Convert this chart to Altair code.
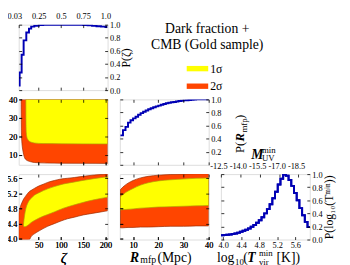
import altair as alt
import pandas as pd

FONT = "Liberation Serif"
YEL, ORA, BLUE = "#ffff00", "#ff4500", "#0000b4"
W, H = 91, 67

levels = ["1σ", "2σ"]
heading = ["Dark fraction +", "CMB (Gold sample)"]

# ---- marginal P(zeta) ----
zeta_steps = [5, 7, 11.5, 16, 22, 28, 33, 40, 50, 60, 150, 160, 170, 180, 190, 200, 205]
p_zeta = [0.07, 0.27, 0.54, 0.76, 0.88, 0.94, 0.97, 0.985, 0.995, 1.0, 0.995, 0.99, 0.982, 0.975, 0.97, 0.965, 0.965]
fesc_tick_zeta = [6, 50, 100, 150, 200]
fesc_labels = ["0.03", "0.25", "0.5", "0.75", "1.0"]

# ---- marginal P(Rmfp) ----
rmfp_steps = [5, 6, 7, 8, 9, 10, 11, 12, 13, 14, 15, 16, 17, 18, 19, 20, 21, 22, 23, 24,
              25, 26, 27, 28, 29, 30, 31, 32, 33, 34, 35, 36, 37, 38, 39, 40]
p_rmfp = [0.45, 0.53, 0.58, 0.645, 0.68, 0.71, 0.735, 0.765, 0.79, 0.81, 0.83, 0.85, 0.865, 0.88,
          0.893, 0.905, 0.917, 0.93, 0.94, 0.95, 0.955, 0.96, 0.968, 0.975, 0.98, 0.985, 0.988,
          0.99, 0.994, 0.997, 1.0, 1.0, 1.0, 1.0, 1.0, 1.0]

# ---- marginal P(log10 Tvir) ----
tvir_steps = [3.95, 4.01, 4.07, 4.13, 4.19, 4.25, 4.31, 4.37, 4.43, 4.49, 4.55, 4.61, 4.67, 4.73,
              4.79, 4.85, 4.91, 4.97, 5.03, 5.09, 5.15, 5.21, 5.27, 5.33, 5.39, 5.45, 5.51, 5.57,
              5.63, 5.69, 5.75, 5.81, 5.87, 5.93]
p_tvir = [0.065, 0.068, 0.073, 0.078, 0.085, 0.093, 0.105, 0.118, 0.133, 0.150, 0.170, 0.195,
          0.222, 0.255, 0.295, 0.340, 0.400, 0.465, 0.540, 0.630, 0.730, 0.840, 0.930, 0.995,
          0.975, 0.910, 0.820, 0.710, 0.600, 0.480, 0.370, 0.270, 0.190, 0.190]
muv_tick_tvir = [3.95, 4.38, 4.81, 5.24, 5.67]
muv_labels = ["-12.5", "-14.0", "-15.5", "-17.0", "-18.5"]

# ---- contours Rmfp vs zeta ----
zB2 = [10.3, 10.6, 11, 12, 13, 14.5, 16, 18.2, 21, 25.5, 32, 40, 55, 69, 100, 150, 205]
rB2_lo = [40, 30, 22, 17, 14.5, 12.2, 10.3, 8.6, 7.6, 6.9, 6.4, 6.0, 5.8, 5.7, 5.6, 5.55, 5.5]
zB1 = [21, 21.3, 22, 23.5, 26, 29, 35, 40, 60, 100, 205]
rB1_lo = [40, 28, 22, 19.5, 18.2, 17.4, 16.8, 16.5, 16.2, 16.1, 16.0]

# ---- contours log Tvir vs zeta ----
zC2 = [5, 8, 12, 16, 20, 25, 29, 33, 40, 51, 60, 70, 85, 100, 115, 130, 150, 170, 190, 205]
tC2_hi = [4.66, 4.82, 4.95, 5.05, 5.12, 5.20, 5.25, 5.28, 5.33, 5.40, 5.44, 5.49, 5.54, 5.58,
          5.60, 5.62, 5.65, 5.68, 5.70, 5.72]
tC2_lo = [3.97, 3.97, 3.97, 3.97, 3.97, 3.97, 3.98, 4.06, 4.13, 4.21, 4.27, 4.33, 4.40, 4.47,
          4.53, 4.57, 4.63, 4.67, 4.71, 4.74]
zC1 = [15.5, 17, 19, 22, 27, 33, 40, 51, 70, 85, 106, 125, 143, 174, 205]
tC1_hi = [4.36, 4.52, 4.68, 4.84, 4.98, 5.07, 5.15, 5.22, 5.32, 5.38, 5.45, 5.49, 5.53, 5.59, 5.64]
tC1_lo = [4.36, 4.32, 4.32, 4.33, 4.37, 4.43, 4.48, 4.55, 4.64, 4.71, 4.81, 4.88, 4.94, 5.03, 5.10]

# ---- contours log Tvir vs Rmfp ----
rD = [5, 6, 8, 10, 13, 16, 20, 25, 30, 35, 40]
tD2_hi = [5.30, 5.37, 5.47, 5.54, 5.61, 5.65, 5.68, 5.70, 5.71, 5.72, 5.72]
tD2_lo = [4.29, 4.29, 4.30, 4.30, 4.31, 4.31, 4.32, 4.33, 4.33, 4.34, 4.34]
tD1_hi = [5.11, 5.17, 5.26, 5.33, 5.42, 5.48, 5.53, 5.56, 5.58, 5.60, 5.61]
tD1_lo = [4.76, 4.77, 4.78, 4.79, 4.81, 4.82, 4.84, 4.85, 4.86, 4.87, 4.88]

prob_ticks = [0.0, 0.2, 0.4, 0.6, 0.8, 1.0]
zeta_ticks = [50, 100, 150, 200]
rmfp_ticks = [10, 20, 30, 40]
tvir_ticks = [4.0, 4.4, 4.8, 5.2, 5.6]

zeta_scale = alt.Scale(domain=[5, 205], nice=False, zero=False)
rmfp_scale = alt.Scale(domain=[4.75, 40], nice=False, zero=False)
tvir_scale = alt.Scale(domain=[3.98, 5.71], nice=False, zero=False)
tvirF_scale = alt.Scale(domain=[3.95, 5.92], nice=False, zero=False)
prob_scale = alt.Scale(domain=[0, 1], nice=False)
color_scale = alt.Scale(domain=levels, range=[YEL, ORA])

legend = alt.Legend(orient="none", legendX=172, legendY=34, title=None,
                    symbolType="M-1,-0.25L1,-0.25L1,0.25L-1,0.25Z", symbolSize=484,
                    symbolStrokeWidth=0, labelFont=FONT, labelFontSize=12, labelOffset=2,
                    rowPadding=1, padding=0)

one = pd.DataFrame({"_": [0]})


def ax(**kw):
    base = dict(domain=False, grid=False, tickColor="black", tickSize=3, tickWidth=0.8, offset=-3,
                labelFont=FONT, labelFontSize=8.5, labelColor="black", labelFlush=False,
                labelOverlap=False, titleFont=FONT, titleColor="black", titleFontWeight="normal",
                zindex=2)
    base.update(kw)
    return alt.Axis(**base)


def tick_axis(orient, vals):
    return ax(orient=orient, values=vals, labels=False, title=None)


def mirror(xscale, yscale, xorient, xvals, yorient, yvals):
    """Invisible layer that only carries inward tick marks on the other two sides."""
    return alt.Chart(one).mark_point(opacity=0).encode(
        x=alt.X("mx:Q", scale=xscale, axis=tick_axis(xorient, xvals) if xorient else None),
        y=alt.Y("my:Q", scale=yscale, axis=tick_axis(yorient, yvals) if yorient else None),
    )


def note(txt, x, y, size, style="normal", weight="normal", angle=0, align="left", baseline="alphabetic"):
    return alt.Chart(one).mark_text(text=txt, font=FONT, fontSize=size, fontStyle=style,
                                    fontWeight=weight, angle=angle, align=align,
                                    baseline=baseline, color="black").encode(
        x=alt.value(x), y=alt.value(y))


def cond_expr(vals, labs):
    return " : ".join(f"abs(datum.value - {v}) < 0.001 ? '{l}'" for v, l in zip(vals, labs)) + " : ''"


def area_layer(df, xenc, yenc, y2enc, stroke):
    return alt.Chart(df).mark_area(clip=True, interpolate="monotone", stroke=stroke,
                                   strokeWidth=0.7).encode(
        x=xenc, y=yenc, y2=y2enc,
        color=alt.Color("level:N", scale=color_scale, legend=legend))


# Panel A: P(zeta)
dfA = pd.DataFrame({"x": zeta_steps, "p": p_zeta})
A = alt.layer(
    alt.Chart(dfA).mark_line(interpolate="step-after", color=BLUE, strokeWidth=2, clip=True).encode(
        x=alt.X("x:Q", scale=zeta_scale,
                axis=ax(orient="top", values=fesc_tick_zeta,
                        labelExpr=cond_expr(fesc_tick_zeta, fesc_labels),
                        labelPadding=4, title=None,
                        labelOffset={"condition": {"test": "datum.value < 10", "value": -5}, "value": 0})),
        y=alt.Y("p:Q", scale=prob_scale,
                axis=ax(orient="right", values=prob_ticks, format=".1f", labelPadding=2,
                        title="P(ζ)", titleAngle=270, titleBaseline="top", titleFontSize=12,
                        titlePadding=1)),
    ),
    mirror(zeta_scale, prob_scale, "bottom", zeta_ticks, "left", prob_ticks),
).resolve_axis(x="independent", y="independent").properties(width=W, height=H)

# Panel B: Rmfp vs zeta
xB = alt.X("x:Q", scale=zeta_scale, axis=tick_axis("bottom", zeta_ticks))
yB = alt.Y("lo:Q", scale=rmfp_scale, axis=ax(orient="left", values=rmfp_ticks, format="d",
                                              labelPadding=2, title=None))
dfB2 = pd.DataFrame({"x": zB2, "lo": rB2_lo, "level": levels[1]})
dfB1 = pd.DataFrame({"x": zB1, "lo": rB1_lo, "level": levels[0]})
B = alt.layer(
    area_layer(dfB2, xB, yB, alt.datum(40), "#9a2a00"),
    area_layer(dfB1, xB, yB, alt.datum(40), "#b0a400"),
    mirror(zeta_scale, rmfp_scale, "top", zeta_ticks, "right", rmfp_ticks),
).resolve_axis(x="independent", y="independent").properties(width=W, height=H)

# Panel C: log Tvir vs zeta
xC = alt.X("x:Q", scale=zeta_scale, axis=ax(orient="bottom", values=zeta_ticks, format="d",
                                             labelPadding=1, title="ζ", titleFontSize=15,
                                             titleFontStyle="italic", titlePadding=2))
yC = alt.Y("lo:Q", scale=tvir_scale, axis=ax(orient="left", values=tvir_ticks, format=".1f",
                                              labelPadding=2, title=None))
dfC2 = pd.DataFrame({"x": zC2, "lo": tC2_lo, "hi": tC2_hi, "level": levels[1]})
dfC1 = pd.DataFrame({"x": zC1, "lo": tC1_lo, "hi": tC1_hi, "level": levels[0]})
C = alt.layer(
    area_layer(dfC2, xC, yC, alt.Y2("hi:Q"), "#9a2a00"),
    area_layer(dfC1, xC, yC, alt.Y2("hi:Q"), "#b0a400"),
    mirror(zeta_scale, tvir_scale, "top", zeta_ticks, "right", tvir_ticks),
).resolve_axis(x="independent", y="independent").properties(width=W, height=H)

# Panel D: log Tvir vs Rmfp
xD = alt.X("x:Q", scale=rmfp_scale, axis=ax(orient="bottom", values=rmfp_ticks, format="d",
                                             labelPadding=1, title=None))
yD = alt.Y("lo:Q", scale=tvir_scale, axis=tick_axis("left", tvir_ticks))
dfD2 = pd.DataFrame({"x": rD, "lo": tD2_lo, "hi": tD2_hi, "level": levels[1]})
dfD1 = pd.DataFrame({"x": rD, "lo": tD1_lo, "hi": tD1_hi, "level": levels[0]})
D = alt.layer(
    area_layer(dfD2, xD, yD, alt.Y2("hi:Q"), "#9a2a00"),
    area_layer(dfD1, xD, yD, alt.Y2("hi:Q"), "#b0a400"),
    mirror(rmfp_scale, tvir_scale, "top", rmfp_ticks, "right", tvir_ticks),
    note("R", 10.5, 89.5, 14, style="italic", weight="bold"),
    note("mfp", 21, 91.5, 10),
    note("(Mpc)", 38.5, 89.5, 14),
).resolve_axis(x="independent", y="independent").properties(width=W, height=H)

# Panel E: P(Rmfp)
dfE = pd.DataFrame({"x": rmfp_steps, "p": p_rmfp})
E = alt.layer(
    alt.Chart(dfE).mark_line(interpolate="step-after", color=BLUE, strokeWidth=2, clip=True).encode(
        x=alt.X("x:Q", scale=rmfp_scale, axis=tick_axis("bottom", rmfp_ticks)),
        y=alt.Y("p:Q", scale=prob_scale, axis=ax(orient="right", values=prob_ticks[1:], format=".1f",
                                                 labelPadding=2, title=None)),
    ),
    mirror(rmfp_scale, prob_scale, "top", rmfp_ticks, "left", prob_ticks),
    note("P(", 123.5, 55, 13, angle=270, baseline="middle"),
    note("R", 123.5, 43, 13, style="italic", weight="bold", angle=270, baseline="middle"),
    note("mfp", 127.5, 34, 9, angle=270, baseline="middle"),
    note(")", 123.5, 20, 13, angle=270, baseline="middle"),
).resolve_axis(x="independent", y="independent").properties(width=W, height=H)

# Panel F: P(log Tvir)
dfF = pd.DataFrame({"x": tvir_steps, "p": p_tvir})
lineF = alt.Chart(dfF).mark_line(interpolate="step-after", color=BLUE, strokeWidth=2, clip=True)
F = alt.layer(
    lineF.encode(
        x=alt.X("x:Q", scale=tvirF_scale, axis=ax(orient="bottom", values=tvir_ticks, format=".1f",
                                                  labelPadding=1, title=None)),
        y=alt.Y("p:Q", scale=prob_scale, axis=ax(orient="right", values=prob_ticks, format=".1f",
                                                 labelPadding=2, title="P(log₁₀(Tᵐⁱⁿ))",
                                                 titleAngle=270, titleBaseline="top",
                                                 titleFontSize=12, titlePadding=2)),
    ),
    lineF.encode(
        x=alt.X("x:Q", scale=tvirF_scale,
                axis=ax(orient="top", values=muv_tick_tvir, labelExpr=cond_expr(muv_tick_tvir, muv_labels),
                        labelPadding=4, labelOffset=-2.5, title=None)),
        y=alt.Y("p:Q", scale=prob_scale, axis=tick_axis("left", prob_ticks)),
    ),
    note("M", 31, -15, 14, style="italic", weight="bold"),
    note("min", 42, -22, 9),
    note("UV", 42, -13, 9),
    note("log", -4, 89.5, 14),
    note("10", 14.5, 93, 9),
    note("(", 23, 89.5, 14),
    note("T", 27, 89.5, 14, style="italic", weight="bold"),
    note("min", 39, 83.5, 9),
    note("vir", 39, 93.5, 9),
    note("[K])", 57, 89.5, 14),
).resolve_axis(x="independent", y="independent").properties(width=W, height=H)

# Legend heading cell
dfh = pd.DataFrame({"t": heading, "row": [0, 1]})
Lcell = alt.Chart(dfh).mark_text(font=FONT, fontSize=14, align="center", baseline="middle",
                                 color="black").encode(
    text="t:N", x=alt.value(89.5),
    y=alt.Y("row:Q", scale=alt.Scale(domain=[0, 1], range=[5, 21]), axis=None),
).properties(width=W, height=H, view=alt.ViewBackground(stroke="transparent"))


def blank():
    return alt.Chart(one).mark_point(opacity=0).encode(x=alt.value(0), y=alt.value(0)).properties(
        width=W, height=H, view=alt.ViewBackground(stroke="transparent"))


chart = alt.concat(A, Lcell, blank(), B, E, blank(), C, D, F, columns=3,
                   spacing={"row": 9.5, "column": 12.5}, bounds="flush").properties(
    autosize=alt.AutoSizeParams(type="none"),
    padding={"left": 11, "top": 14, "right": 331, "bottom": 243},
).configure_view(stroke="black", strokeWidth=0.8).configure(background="white")

chart.save("out.html", embed_options={"renderer": "svg", "actions": False})
